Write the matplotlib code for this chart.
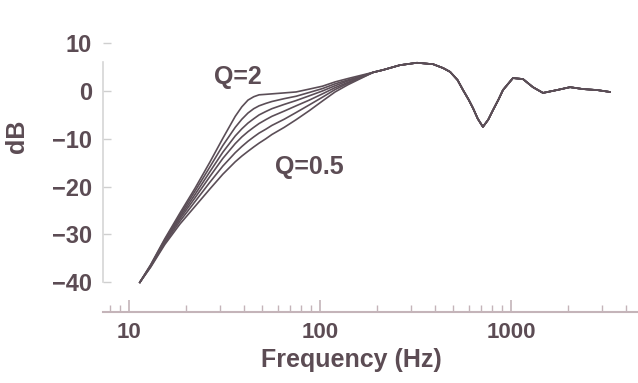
import matplotlib.pyplot as plt
from matplotlib.ticker import LogLocator, NullFormatter

# Frequencies (Hz) where the Q curves still differ
freq_low = [11.4, 13, 15.4, 18.5, 22.2, 26.5, 31, 36, 39, 42, 45, 48, 52, 56, 65, 75, 88, 103, 120, 140, 165, 190]

# Low-frequency part of each curve (dB)
db_q20 = [-40.0, -36.3, -30.9, -25.5, -20.3, -14.9, -9.9, -5.3, -3.3, -1.9, -1.2, -0.8, -0.7, -0.6, -0.4, -0.2, 0.4, 1.0, 1.9, 2.6, 3.3, 3.9]
db_q15 = [-40.0, -36.4, -31.1, -25.9, -20.9, -15.9, -11.4, -7.6, -5.9, -4.6, -3.7, -3.1, -2.6, -2.2, -1.6, -1.1, -0.3, 0.5, 1.5, 2.3, 3.1, 3.9]
db_q12 = [-40.0, -36.5, -31.3, -26.3, -21.6, -16.9, -12.8, -9.4, -7.9, -6.7, -5.8, -5.0, -4.3, -3.7, -2.8, -2.0, -1.0, 0.0, 1.1, 2.1, 3.0, 3.9]
db_q10 = [-40.0, -36.6, -31.5, -26.7, -22.3, -17.9, -14.1, -11.0, -9.6, -8.5, -7.6, -6.8, -6.0, -5.3, -4.2, -3.1, -1.9, -0.6, 0.7, 1.8, 2.9, 3.9]
db_q07 = [-40.0, -36.7, -31.8, -27.2, -23.1, -19.1, -15.7, -12.9, -11.6, -10.5, -9.6, -8.8, -8.0, -7.2, -5.9, -4.5, -2.9, -1.3, 0.3, 1.6, 2.8, 3.9]
db_q05 = [-40.0, -36.8, -32.1, -27.8, -24.1, -20.5, -17.4, -14.8, -13.6, -12.6, -11.7, -10.9, -10.0, -9.1, -7.6, -6.0, -4.1, -2.1, -0.2, 1.3, 2.7, 3.9]

# Shared high-frequency part (room response)
freq_high = [214, 262, 322, 391, 441, 480, 525, 561, 600, 633, 670, 713, 760, 805, 860, 908, 1024, 1155, 1303, 1471, 1742, 2038, 2384, 2821, 3296]
db_high = [4.4, 5.4, 5.9, 5.6, 4.8, 4.0, 2.3, 0.2, -1.8, -3.6, -5.8, -7.5, -6.0, -4.0, -1.8, 0.2, 2.7, 2.5, 0.8, -0.4, 0.2, 0.8, 0.4, 0.2, -0.2]

curves = [db_q20, db_q15, db_q12, db_q10, db_q07, db_q05]

y_ticks = [10, 0, -10, -20, -30, -40]
x_ticks = [10, 100, 1000]
x_tick_labels = ["10", "100", "1000"]

text_color = "#5c4c54"
line_color = "#5b4e57"
axis_color = "#c4b4b9"

plt.rcParams["font.family"] = ["Liberation Sans", "DejaVu Sans"]
plt.rcParams["font.weight"] = "bold"

fig = plt.figure(figsize=(6.38, 3.83), dpi=100)
ax = fig.add_axes([0.1614, 0.1854, 0.8386, 0.7269])

for db in curves:
    ax.plot(freq_low + freq_high, db + db_high, color=line_color, lw=1.2)

ax.set_xscale("log")
ax.set_xlim(7.31, 4624)
ax.set_ylim(-46.2, 12)

ax.set_xticks(x_ticks)
ax.set_xticklabels(x_tick_labels)
ax.xaxis.set_minor_locator(LogLocator(base=10, subs=range(2, 10)))
ax.xaxis.set_minor_formatter(NullFormatter())
ax.set_yticks(y_ticks)
ax.set_yticklabels([str(v).replace("-", "\u2212") for v in y_ticks])

ax.tick_params(axis="x", which="major", direction="in", length=9, width=1.2,
               color=axis_color, labelsize=16, labelcolor=text_color, pad=7)
ax.tick_params(axis="x", which="minor", direction="in", length=5, width=1.0, color=axis_color)
ax.tick_params(axis="y", direction="in", length=6, width=1.0,
               color="#cfcfcf", labelsize=17, labelcolor=text_color, pad=8)

for side in ["top", "right"]:
    ax.spines[side].set_visible(False)
ax.spines["bottom"].set_color(axis_color)
ax.spines["bottom"].set_linewidth(1.5)
ax.spines["left"].set_color("#d6d6d6")
ax.spines["left"].set_linewidth(1.2)
ax.spines["left"].set_bounds(-40, 6)

ax.set_xlabel("Frequency (Hz)", fontsize=18, fontweight="bold", color=text_color)
ax.xaxis.set_label_coords(0.4636, -0.129)
ax.set_ylabel("dB", fontsize=18, fontweight="bold", color=text_color, va="center")
ax.yaxis.set_label_coords(-0.161, 0.632)

ax.text(37.2, 2.9, "Q=2", fontsize=18, color=text_color, ha="center", va="center")
ax.text(87.5, -15.9, "Q=0.5", fontsize=18, color=text_color, ha="center", va="center")

fig.savefig("out.png", dpi=100)
